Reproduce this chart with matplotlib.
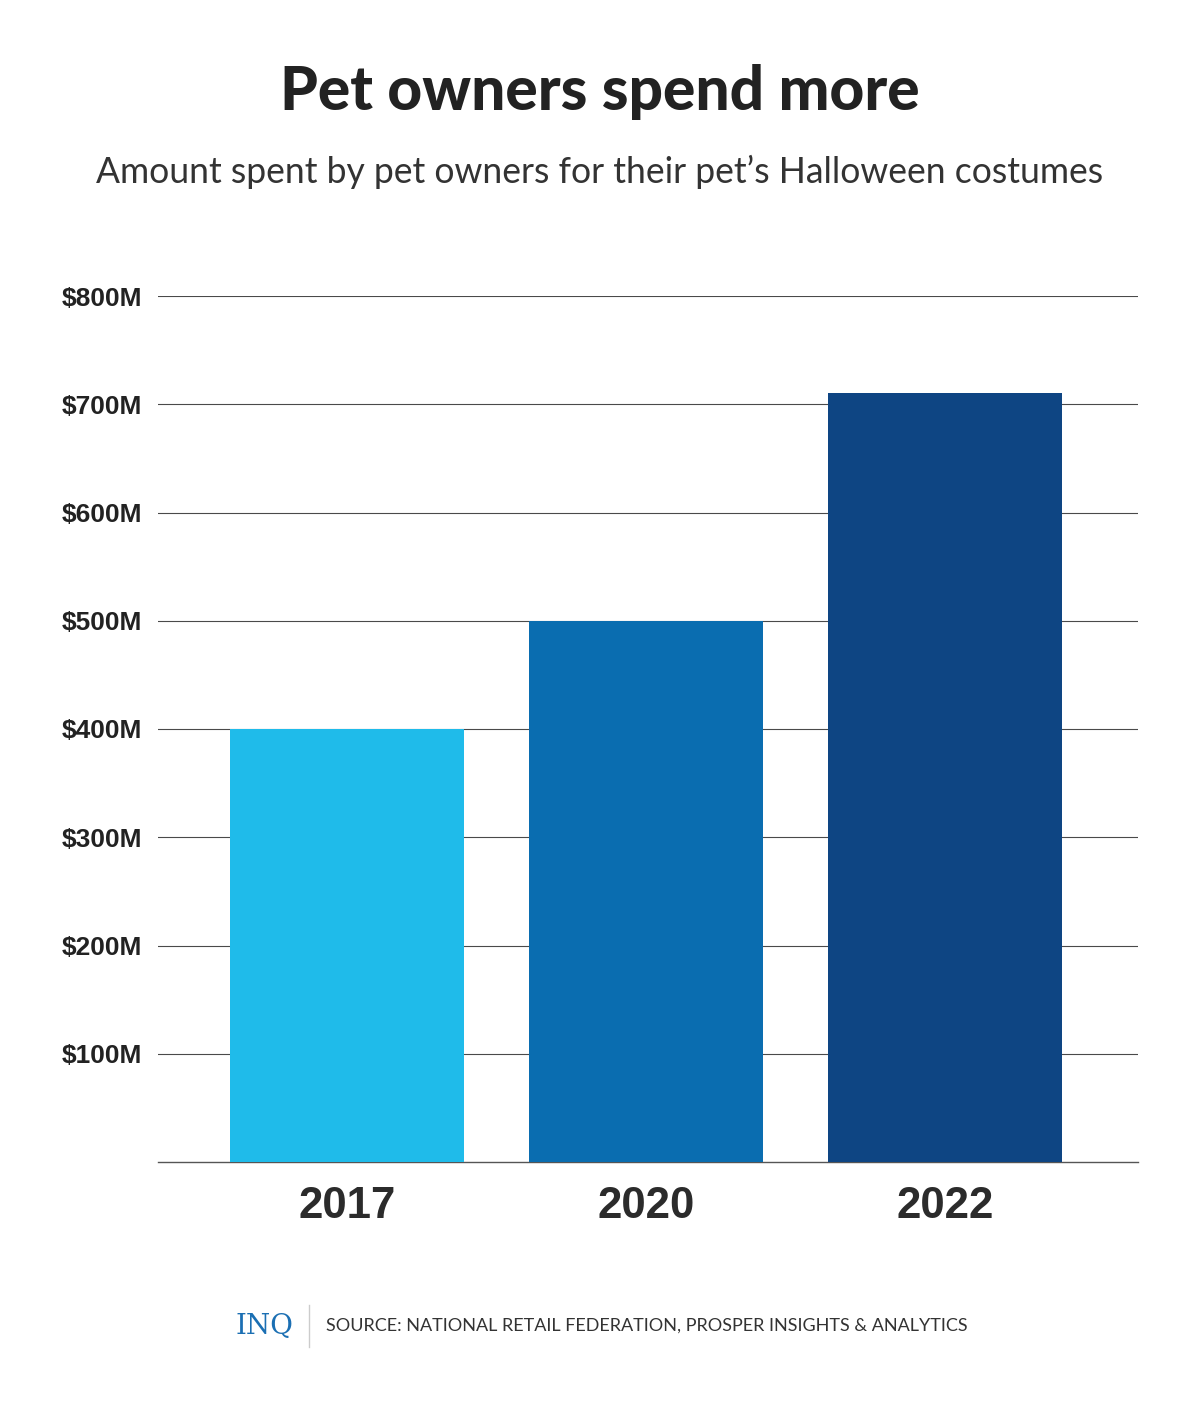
import numpy as np
import matplotlib.pyplot as plt
from matplotlib.lines import Line2D

# data
years = ['2017', '2020', '2022']
spend = [400, 500, 710]          # millions of dollars
bar_colors = ['#1fbbea', '#0a6db0', '#0e4583']
yticks = [100, 200, 300, 400, 500, 600, 700, 800]
ytick_labels = ['$%dM' % v for v in yticks]

fig = plt.figure(figsize=(12, 14.02), dpi=100)
W, H = 1200., 1402.

# axes in pixel coords: x 158..1138, y 296..1162
ax = fig.add_axes([158/W, 1 - 1162/H, (1138-158)/W, (1162-296)/H])

x = np.arange(len(years))
ax.bar(x, spend, width=0.783, color=bar_colors, zorder=3)
ax.set_xlim(-0.632, 2.645)
ax.set_ylim(0, 800)

ax.set_yticks(yticks)
ax.set_yticklabels(ytick_labels, fontsize=19, fontweight='bold',
                   family='Liberation Sans', color='#222222')
ax.set_xticks(x)
ax.set_xticklabels(years, fontsize=31.5, fontweight='bold',
                   family='Liberation Sans', color='#2b2b2b')
ax.tick_params(axis='y', length=0, pad=11.5)
ax.tick_params(axis='x', length=0, pad=17)
for v in yticks:
    ax.axhline(v, color='#4a4a4a', lw=0.8, zorder=1)
for s in ['top', 'right', 'left']:
    ax.spines[s].set_visible(False)
ax.spines['bottom'].set_color('#555555')
ax.spines['bottom'].set_linewidth(1.0)

fig.text(0.5, 1 - 92/H, 'Pet owners spend more', ha='center', va='center',
         fontsize=43.5, fontweight='black', family='Lato', color='#222222')
fig.text(0.5, 1 - 172/H, "Amount spent by pet owners for their pet\u2019s Halloween costumes",
         ha='center', va='center', fontsize=25.6, family='Lato', color='#333333')

# footer
fig.text(264/W, 1 - 1327/H, 'INQ', ha='center', va='center', fontsize=20,
         family='DejaVu Serif', color='#1b6fb3')
fig.add_artist(Line2D([309/W, 309/W], [1 - 1305/H, 1 - 1347/H], color='#cccccc', lw=1))
fig.text(326/W, 1 - 1326/H, 'SOURCE: NATIONAL RETAIL FEDERATION, PROSPER INSIGHTS & ANALYTICS',
         ha='left', va='center', fontsize=13, family='Lato', color='#333333')

fig.savefig('out.png', dpi=100, facecolor='white')
